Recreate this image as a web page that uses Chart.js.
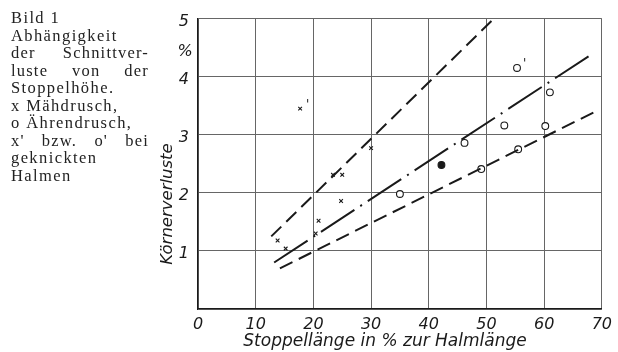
<!DOCTYPE html>
<html><head><meta charset="utf-8">
<script src="https://cdn.jsdelivr.net/npm/chart.js@4/dist/chart.umd.min.js"></script>
<style>
html,body{margin:0;padding:0;background:#fff;}
#wrap{position:relative;width:618px;height:352px;overflow:hidden;background:#fff;}
#c{position:absolute;left:0;top:0;}
#cap{position:absolute;left:11px;top:9px;width:138px;font-family:"Liberation Serif","DejaVu Serif",serif;font-size:16.5px;line-height:17.5px;color:#222;letter-spacing:1.4px;}
#cap div{white-space:nowrap;}
#cap div.j{text-align:justify;text-align-last:justify;letter-spacing:1.2px;}
</style></head>
<body>
<div id="wrap">
<canvas id="c" width="618" height="352"></canvas>
<div id="cap">
<div>Bild 1</div>
<div>Abhängigkeit</div>
<div class="j">der Schnittver-</div>
<div class="j">luste von der</div>
<div>Stoppelhöhe.</div>
<div>x Mähdrusch,</div>
<div>o Ährendrusch,</div>
<div class="j">x' bzw. o' bei</div>
<div>geknickten</div>
<div>Halmen</div>
</div>
</div>
<script>
// ---- data ----
const xTicks = [0, 10, 20, 30, 40, 50, 60, 70];
const yTicks = [1, 2, 3, 4, 5];
const xTitle = "Stoppellänge in % zur Halmlänge";
const yTitle = "Körnerverluste";
const yUnit = "%";

// x Mähdrusch
const maehX = [13.8, 15.2, 20.4, 20.9, 23.4, 25.0, 24.8, 30.0];
const maehY = [1.18, 1.04, 1.30, 1.52, 2.31, 2.31, 1.86, 2.77];
// x' Mähdrusch, geknickte Halme
const maehKnX = [17.7];
const maehKnY = [3.45];
// o Ährendrusch
const aehrX = [35.0, 46.2, 49.1, 53.1, 55.5, 60.2, 61.0];
const aehrY = [1.98, 2.86, 2.41, 3.16, 2.75, 3.15, 3.73];
// filled o
const aehrFillX = [42.2];
const aehrFillY = [2.48];
// o' Ährendrusch, geknickte Halme
const aehrKnX = [55.3];
const aehrKnY = [4.15];
// regression lines
const upperX = [12.7, 51.3], upperY = [1.25, 5.0];
const midX = [13.2, 68.3], midY = [0.80, 4.39];
const lowerX = [14.2, 69.5], lowerY = [0.70, 3.43];

const pts = (xs, ys) => xs.map((x, i) => ({x: x, y: ys[i]}));
const INK = '#1a1a1a';
const FONT = '"DejaVu Sans", sans-serif';

const primePlugin = {
  id: 'prime',
  afterDatasetsDraw(chart) {
    const ctx = chart.ctx;
    ctx.save();
    ctx.fillStyle = INK;
    ctx.font = '12px ' + FONT;
    chart.data.datasets.forEach((ds, i) => {
      if (!ds.prime) return;
      chart.getDatasetMeta(i).data.forEach(el => {
        ctx.fillText("'", el.x + 6, el.y - 1);
      });
    });
    ctx.restore();
  }
};

const titlePlugin = {
  id: 'titles',
  afterDraw(chart) {
    const ctx = chart.ctx;
    ctx.save();
    ctx.fillStyle = INK;
    ctx.textAlign = 'center';
    ctx.textBaseline = 'middle';
    ctx.font = 'italic 17px ' + FONT;
    ctx.fillText(xTitle, 385, 342);
    ctx.font = 'italic 16px ' + FONT;
    ctx.fillText(yUnit, 185, 52);
    ctx.font = 'italic 16.5px ' + FONT;
    ctx.translate(168, 204);
    ctx.rotate(-Math.PI / 2);
    ctx.fillText(yTitle, 0, 0);
    ctx.restore();
  }
};

const lineDs = (xs, ys, dash) => ({
  type: 'line', data: pts(xs, ys), showLine: true, borderColor: INK,
  borderWidth: 2, borderDash: dash, pointRadius: 0, fill: false
});
const ptDs = (xs, ys, style, fillColor, r, prime) => ({
  type: 'scatter', data: pts(xs, ys), pointStyle: style, pointRadius: r,
  borderColor: INK, backgroundColor: fillColor, pointBorderWidth: 1.1,
  showLine: false, prime: prime
});

new Chart(document.getElementById('c'), {
  type: 'scatter',
  data: {
    datasets: [
      lineDs(upperX, upperY, [14, 7]),
      lineDs(midX, midY, [40, 7, 2, 7]),
      lineDs(lowerX, lowerY, [14, 7]),
      ptDs(maehX, maehY, 'crossRot', INK, 2.6, false),
      ptDs(maehKnX, maehKnY, 'crossRot', INK, 2.6, true),
      ptDs(aehrX, aehrY, 'circle', '#fff', 3.4, false),
      ptDs(aehrFillX, aehrFillY, 'circle', INK, 3.4, false),
      ptDs(aehrKnX, aehrKnY, 'circle', '#fff', 3.4, true)
    ]
  },
  options: {
    responsive: false, animation: false,
    layout: {padding: {left: 0, right: 5, top: 17, bottom: 0}},
    plugins: {legend: {display: false}, tooltip: {enabled: false}, title: {display: false}},
    scales: {
      x: {
        type: 'linear', min: 0, max: 70,
        afterBuildTicks: s => { s.ticks = xTicks.map(v => ({value: v})); },
        afterFit: s => { s.height = 43; },
        grid: {color: '#666', lineWidth: 1, drawTicks: false},
        border: {color: INK, width: 1.3},
        ticks: {color: INK, padding: 6, maxRotation: 0, font: {family: FONT, size: 16, style: 'italic'}}
      },
      y: {
        type: 'linear', min: 0, max: 5,
        afterBuildTicks: s => { s.ticks = [0].concat(yTicks).map(v => ({value: v})); },
        afterFit: s => { s.width = 198; },
        grid: {color: '#666', lineWidth: 1, drawTicks: false},
        border: {color: INK, width: 1.3},
        ticks: {color: INK, padding: 9, labelOffset: 3, font: {family: FONT, size: 16, style: 'italic'},
          callback: v => (v === 0 ? '' : String(v))}
      }
    }
  },
  plugins: [primePlugin, titlePlugin]
});
</script>
</body></html>
